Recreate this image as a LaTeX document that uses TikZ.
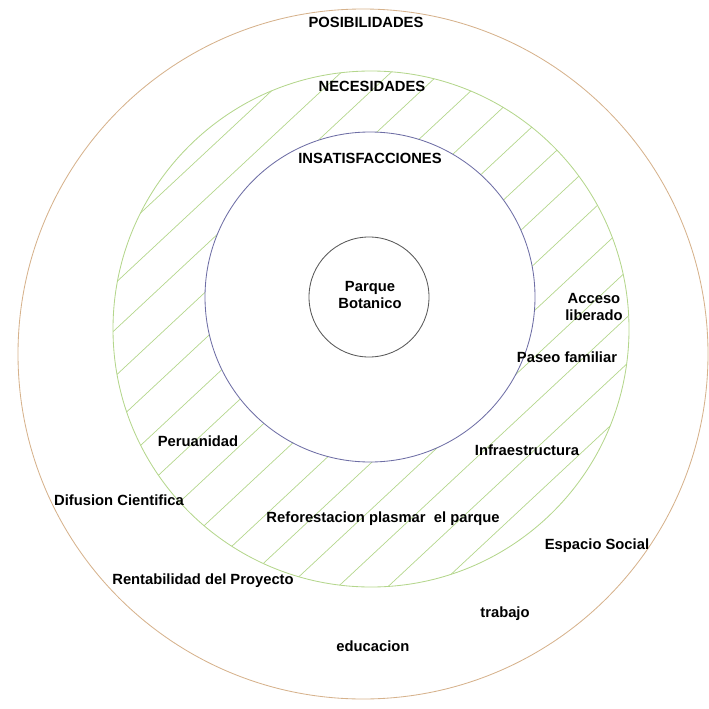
\documentclass[tikz,border=0pt]{standalone}
\usepackage{fontspec}
\setmainfont{Liberation Sans}
\usepackage{xcolor}
\usepackage{tikz}

\definecolor{ringtan}{RGB}{214,178,140}
\definecolor{hatchgreen}{RGB}{180,214,140}
\definecolor{insblue}{RGB}{110,110,165}

\tikzset{
  lbl/.style={font=\fontsize{10.5}{12.5}\selectfont\bfseries, align=center, inner sep=1pt},
  ring/.style={line width=0.6pt}
}

\begin{document}
\begin{tikzpicture}[x=0.025cm, y=-0.025cm]
\useasboundingbox (0,0) rectangle (709,709);

% rings
\draw[ring, ringtan] (363,354) circle (345);
\begin{scope}
\clip (371,329) circle (258);
\begin{scope}[shift={(371,329)}, rotate=43]
\foreach \k in {-9,...,8}
  \draw[hatchgreen, line width=0.5pt] (-300,30+34*\k) -- (300,30+34*\k);
\end{scope}
\end{scope}
\draw[ring, hatchgreen] (371,329) circle (258);
\fill[white] (370,297) circle (165);
\draw[ring, insblue] (370,297) circle (165);
\draw[ring, black!65] (369,297) circle (60);

% labels
\node[lbl] (posib) at (366,22) {POSIBILIDADES};
\node[lbl] (neces) at (372,86) {NECESIDADES};
\node[lbl] (insat) at (370,158) {INSATISFACCIONES};
\node[lbl] (parque) at (370,295) {Parque\\Botanico};
\node[lbl] (acceso) at (594,307) {Acceso\\liberado};
\node[lbl] (paseo) at (567,357) {Paseo familiar};
\node[lbl] (infra) at (527,450) {Infraestructura};
\node[lbl] (peru) at (198,441) {Peruanidad};
\node[lbl] (difus) at (119,500) {Difusion Cientifica};
\node[lbl] (refor) at (383,519) {Reforestacion plasmar\ \ el parque};
\node[lbl] (espacio) at (597,546) {Espacio Social};
\node[lbl] (renta) at (203,581) {Rentabilidad del Proyecto};
\node[lbl] (trabajo) at (505,614) {trabajo};
\node[lbl] (educ) at (373,646) {educacion};
\end{tikzpicture}
\end{document}
